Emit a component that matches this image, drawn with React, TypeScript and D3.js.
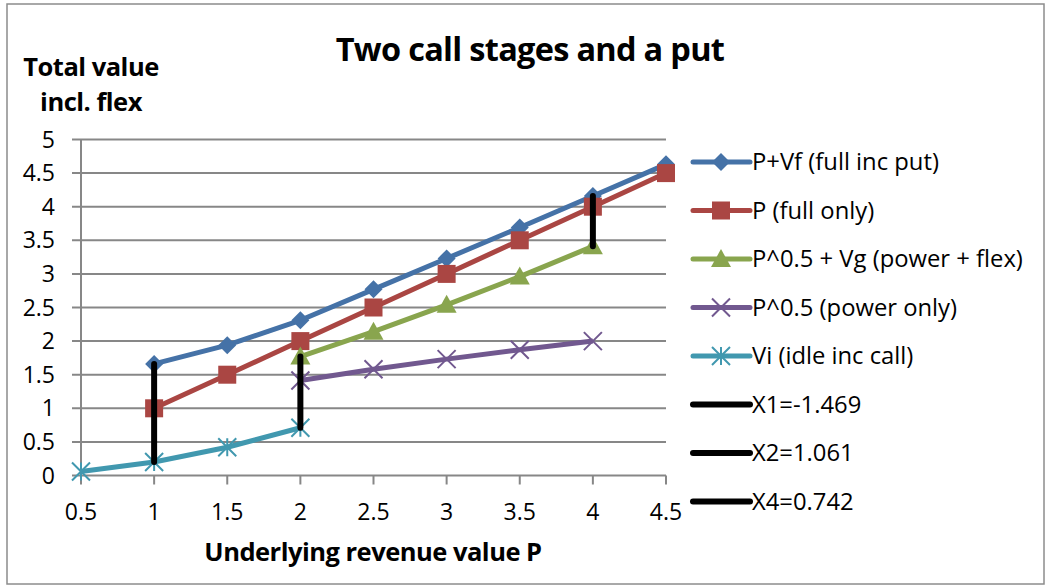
import React from "react";
import * as d3 from "d3";

// values
const pFullPut = [
  [1, 1.66], [1.5, 1.94], [2, 2.31], [2.5, 2.77], [3, 3.23], [3.5, 3.69], [4, 4.16], [4.5, 4.63],
];
const pFull = [
  [1, 1], [1.5, 1.5], [2, 2], [2.5, 2.5], [3, 3], [3.5, 3.5], [4, 4], [4.5, 4.5],
];
const powerFlex = [
  [2, 1.77], [2.5, 2.14], [3, 2.54], [3.5, 2.96], [4, 3.41],
];
const powerOnly = [
  [2, 1.414], [2.5, 1.581], [3, 1.732], [3.5, 1.871], [4, 2.0],
];
const idleCall = [
  [0.5, 0.06], [1, 0.2], [1.5, 0.42], [2, 0.71],
];
const x1Line = [[1, 0.2], [1, 1.66]];
const x2Line = [[2, 0.71], [2, 1.77]];
const x4Line = [[4, 3.41], [4, 4.16]];

const xTicks = [0.5, 1, 1.5, 2, 2.5, 3, 3.5, 4, 4.5];
const yTicks = [0, 0.5, 1, 1.5, 2, 2.5, 3, 3.5, 4, 4.5, 5];

const seriesNames = [
  "P+Vf (full inc put)",
  "P (full only)",
  "P^0.5 + Vg (power + flex)",
  "P^0.5 (power only)",
  "Vi (idle inc call)",
  "X1=-1.469",
  "X2=1.061",
  "X4=0.742",
];

const FONT = "'Open Sans', 'Noto Sans', sans-serif";

type Pt = number[];

const Marker = ({ kind, x, y, color }: { kind: string; x: number; y: number; color: string }) => {
  if (kind === "diamond") {
    const r = 9;
    return <path d={`M${x},${y - r}L${x + r},${y}L${x},${y + r}L${x - r},${y}Z`} fill={color} />;
  }
  if (kind === "square") {
    const s = 9;
    return <rect x={x - s} y={y - s} width={s * 2} height={s * 2} fill={color} />;
  }
  if (kind === "triangle") {
    const s = 10;
    return <path d={`M${x},${y - s}L${x + s},${y + s * 0.8}L${x - s},${y + s * 0.8}Z`} fill={color} />;
  }
  if (kind === "x") {
    const s = 9;
    return (
      <path d={`M${x - s},${y - s}L${x + s},${y + s}M${x - s},${y + s}L${x + s},${y - s}`} stroke={color} strokeWidth={2} />
    );
  }
  if (kind === "star") {
    const s = 9;
    return (
      <path
        d={`M${x - s},${y - s}L${x + s},${y + s}M${x - s},${y + s}L${x + s},${y - s}M${x},${y - s}L${x},${y + s}`}
        stroke={color}
        strokeWidth={2}
      />
    );
  }
  return null;
};

export default function App() {
  const W = 1051;
  const H = 587;
  const left = 81;
  const right = 666;
  const top = 139.5;
  const bottom = 475.5;

  const x = d3.scaleLinear().domain([0.5, 4.5]).range([left, right]);
  const y = d3.scaleLinear().domain([0, 5]).range([bottom, top]);
  const line = d3
    .line<Pt>()
    .x((d) => x(d[0]))
    .y((d) => y(d[1]));

  const series = [
    { data: pFullPut, color: "#4572A7", marker: "diamond" },
    { data: pFull, color: "#AA4643", marker: "square" },
    { data: powerFlex, color: "#89A54E", marker: "triangle" },
    { data: powerOnly, color: "#71588F", marker: "x" },
    { data: idleCall, color: "#4198AF", marker: "star" },
    { data: x1Line, color: "#000000", marker: "none" },
    { data: x2Line, color: "#000000", marker: "none" },
    { data: x4Line, color: "#000000", marker: "none" },
  ];

  const grid = "#878787";
  const legendX = 693;
  const legendY0 = 162;
  const legendStep = 48.5;

  return (
    <svg width={W} height={H} style={{ position: "absolute", left: 0, top: 0, background: "#fff" }} fontFamily={FONT}>
      <rect x={7} y={4} width={1037} height={580} fill="#fff" stroke="#8c8c8c" strokeWidth={1.5} />

      <text x={530} y={61} textAnchor="middle" fontSize={32.5} fontWeight="bold" fill="#000" letterSpacing={-0.7}>
        Two call stages and a put
      </text>
      <text x={91} y={76} textAnchor="middle" fontSize={25.5} fontWeight="bold" fill="#000" letterSpacing={-0.5}>
        Total value
      </text>
      <text x={91} y={111} textAnchor="middle" fontSize={25.5} fontWeight="bold" fill="#000" letterSpacing={-0.5}>
        incl. flex
      </text>
      <text x={373} y={561} textAnchor="middle" fontSize={25.5} fontWeight="bold" fill="#000" letterSpacing={-0.5}>
        Underlying revenue value P
      </text>

      {yTicks.map((t) => (
        <g key={"y" + t}>
          <line x1={left - 9} x2={right} y1={y(t)} y2={y(t)} stroke={grid} strokeWidth={2} />
          <text x={55} y={y(t)} dy="0.35em" textAnchor="end" fontSize={23} fill="#000">
            {t}
          </text>
        </g>
      ))}
      <line x1={left} x2={left} y1={top} y2={bottom} stroke={grid} strokeWidth={2} />
      {xTicks.map((t) => (
        <g key={"x" + t}>
          <line x1={x(t)} x2={x(t)} y1={bottom} y2={bottom + 9} stroke={grid} strokeWidth={2} />
          <text x={x(t)} y={bottom + 44} textAnchor="middle" fontSize={23} fill="#000">
            {t}
          </text>
        </g>
      ))}

      {series.map((s, i) => (
        <g key={"s" + i}>
          <path
            d={line(s.data as Pt[]) || ""}
            fill="none"
            stroke={s.color}
            strokeWidth={s.marker === "none" ? 6 : 5}
            strokeLinecap={s.marker === "none" ? "round" : "butt"}
            strokeLinejoin="round"
          />
          {s.data.map((d, j) => (
            <Marker key={j} kind={s.marker} x={x(d[0])} y={y(d[1])} color={s.color} />
          ))}
        </g>
      ))}

      {series.map((s, i) => {
        const ly = legendY0 + i * legendStep;
        return (
          <g key={"l" + i}>
            <line
              x1={legendX}
              x2={legendX + 57}
              y1={ly}
              y2={ly}
              stroke={s.color}
              strokeWidth={s.marker === "none" ? 6 : 5}
              strokeLinecap="round"
            />
            <Marker kind={s.marker} x={legendX + 28} y={ly} color={s.color} />
            <text x={legendX + 59} y={ly} dy="0.35em" fontSize={23.8} fill="#000">
              {seriesNames[i]}
            </text>
          </g>
        );
      })}
    </svg>
  );
}
